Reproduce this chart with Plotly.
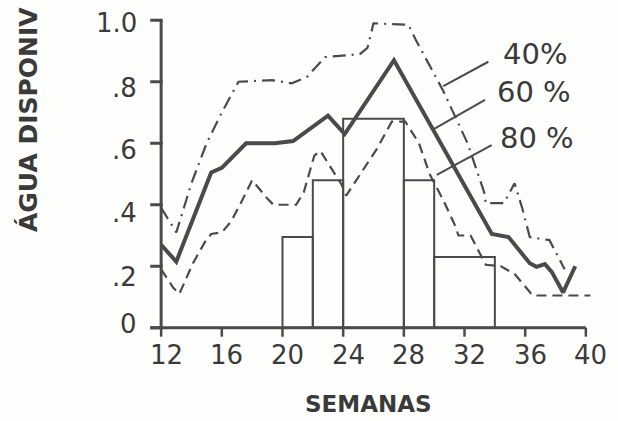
import plotly.graph_objects as go

# Semanas e água disponível (fração) para cada nível de probabilidade
weeks_40 = [12, 13.0, 14.0, 15.0, 16.0, 17.1, 19.3, 20.6, 21.6, 22.8, 25.1, 25.6, 26.0,
            28.3, 28.8, 30.6, 32.2, 33.3, 33.4, 34.6, 35.3, 35.8, 36.3, 37.6, 38.6]
agua_40 = [0.39, 0.31, 0.47, 0.60, 0.70, 0.80, 0.805, 0.795, 0.815, 0.88, 0.89, 0.91, 0.99,
           0.985, 0.935, 0.77, 0.60, 0.44, 0.405, 0.405, 0.47, 0.39, 0.295, 0.285, 0.19]

weeks_60 = [12, 13, 15.3, 16, 17.6, 19.5, 20.7, 21.4, 23.0, 24.1, 27.35, 33.8, 34.9,
            36.3, 36.75, 37.3, 37.75, 38.5, 39.3]
agua_60 = [0.27, 0.215, 0.505, 0.52, 0.60, 0.60, 0.607, 0.632, 0.69, 0.63, 0.87, 0.305, 0.295,
           0.21, 0.198, 0.207, 0.182, 0.115, 0.20]

weeks_80 = [12, 12.8, 13.2, 14.1, 14.9, 15.3, 16.0, 16.6, 17.2, 18.0, 19.0, 19.4, 20.9,
            21.4, 22.1, 22.5, 23.9, 24.2, 26.2, 27.2, 28.1, 29.0, 29.7, 30.6, 31.4, 31.6,
            32.4, 33.4, 34.4, 35.3, 36.5, 40.3]
agua_80 = [0.19, 0.13, 0.11, 0.21, 0.28, 0.305, 0.31, 0.345, 0.40, 0.48, 0.42, 0.40, 0.40,
           0.44, 0.56, 0.575, 0.465, 0.43, 0.58, 0.67, 0.67, 0.60, 0.50, 0.415, 0.33, 0.30,
           0.30, 0.205, 0.20, 0.175, 0.105, 0.105]

# Histograma (limites das classes em semanas e alturas)
bin_edges = [20, 22, 24, 28, 30, 34]
bin_heights = [0.295, 0.48, 0.68, 0.48, 0.23]

x_ticks = [12, 16, 20, 24, 28, 32, 36, 40]
y_ticks = [0, 0.2, 0.4, 0.6, 0.8, 1.0]
y_tick_text = ["0", ".2", ".4", ".6", ".8", "1.0"]

series_labels = ["40%", "60 %", "80 %"]

INK = "#4a4a4a"
TEXT = "#3a3a3a"
FONT = "DejaVu Sans"

fig = go.Figure()

# barras do histograma (somente contorno)
centers = [(a + b) / 2 for a, b in zip(bin_edges[:-1], bin_edges[1:])]
widths = [b - a for a, b in zip(bin_edges[:-1], bin_edges[1:])]
fig.add_trace(go.Bar(
    x=centers, y=bin_heights, width=widths, base=0,
    marker=dict(color="rgba(0,0,0,0)", line=dict(color=INK, width=2)),
    showlegend=False, hoverinfo="skip",
))

fig.add_trace(go.Scatter(
    x=weeks_40, y=agua_40, mode="lines",
    line=dict(color=INK, width=2.2, dash="13px,6px,2px,6px"),
    showlegend=False,
))
fig.add_trace(go.Scatter(
    x=weeks_60, y=agua_60, mode="lines",
    line=dict(color=INK, width=4),
    showlegend=False,
))
fig.add_trace(go.Scatter(
    x=weeks_80, y=agua_80, mode="lines",
    line=dict(color=INK, width=2.2, dash="10px,6px"),
    showlegend=False,
))

shapes = []
# eixos desenhados à mão
shapes.append(dict(type="line", x0=12, x1=12, y0=0, y1=1.0, line=dict(color=INK, width=3)))
shapes.append(dict(type="line", x0=11.28, x1=40, y0=0, y1=0, line=dict(color=INK, width=3)))
for yt in y_ticks:
    shapes.append(dict(type="line", x0=11.28, x1=12.1, y0=yt, y1=yt, line=dict(color=INK, width=3)))
for xt in x_ticks:
    shapes.append(dict(type="line", x0=xt, x1=xt, y0=0, y1=-0.029, line=dict(color=INK, width=2.5)))

# linhas de chamada dos rótulos
leaders = [((30.6, 0.786), (33.57, 0.865)),
           ((29.94, 0.645), (33.35, 0.741)),
           ((30.17, 0.497), (33.79, 0.594))]
for (xa, ya), (xb, yb) in leaders:
    shapes.append(dict(type="line", x0=xa, y0=ya, x1=xb, y1=yb, line=dict(color=INK, width=2)))

annotations = []
for xt in x_ticks:
    annotations.append(dict(x=xt, y=0, xref="x", yref="y", text=str(xt), showarrow=False,
                            xanchor="center", yanchor="middle",
                            xshift=5, yshift=-27, font=dict(family=FONT, size=26, color=TEXT)))
y_label_shift = [4, -11, -8, -7, -6, -3]
for yt, txt, sh in zip(y_ticks, y_tick_text, y_label_shift):
    annotations.append(dict(x=12, y=yt, xref="x", yref="y", text=txt, showarrow=False,
                            xanchor="right", yanchor="middle", xshift=-22, yshift=sh,
                            font=dict(family=FONT, size=26, color=TEXT)))

label_pos = [(36.65, 0.89), (36.58, 0.767), (36.81, 0.617)]
for (lx, ly), txt in zip(label_pos, series_labels):
    annotations.append(dict(x=lx, y=ly, xref="x", yref="y", text=txt, showarrow=False,
                            xanchor="center", yanchor="middle",
                            font=dict(family=FONT, size=29, color=TEXT)))

annotations.append(dict(x=0.489, y=-0.204, xref="paper", yref="paper", text="<b>SEMANAS</b>",
                        xanchor="center", yanchor="middle",
                        showarrow=False, font=dict(family=FONT, size=23, color=TEXT)))
annotations.append(dict(x=-0.267, y=0.666, xref="paper", yref="paper", text="<b>ÁGUA DISPONIV</b>",
                        xanchor="center", yanchor="middle",
                        textangle=-90, showarrow=False,
                        font=dict(family=FONT, size=25, color=TEXT)))

fig.update_layout(
    width=618, height=421,
    margin=dict(l=149, r=20, t=11, b=84),
    paper_bgcolor="#fefefc", plot_bgcolor="#fefefc",
    xaxis=dict(range=[11.2, 40.8], visible=False, fixedrange=True),
    yaxis=dict(range=[-0.03, 1.03], visible=False, fixedrange=True),
    shapes=shapes, annotations=annotations,
    showlegend=False,
)

fig.write_html("out.html")
